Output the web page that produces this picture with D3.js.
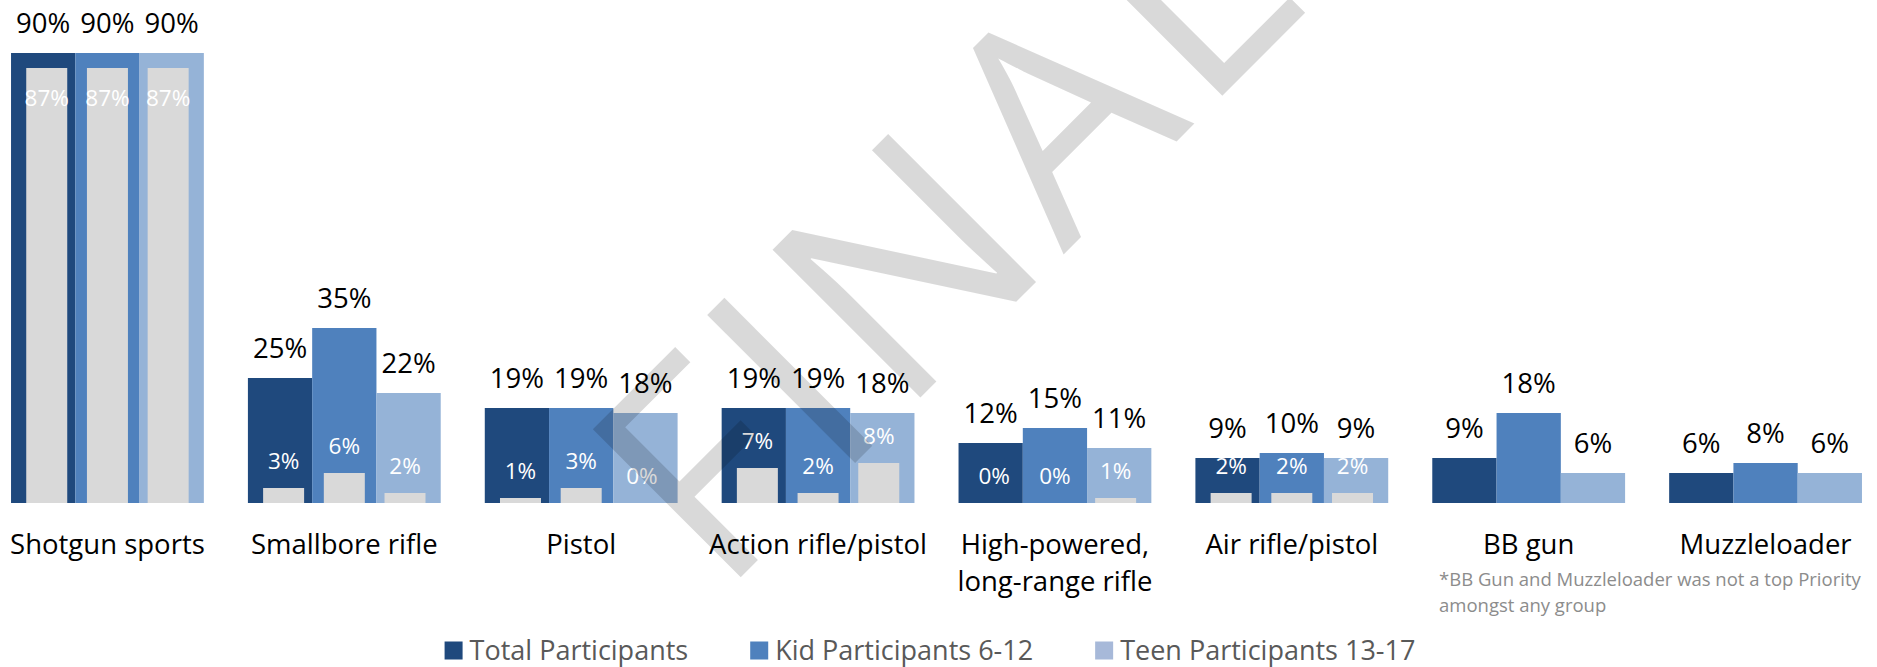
<!DOCTYPE html>
<html>
<head>
<meta charset="utf-8">
<script src="https://cdnjs.cloudflare.com/ajax/libs/d3/7.8.5/d3.min.js"></script>
<style>
  html, body { margin: 0; padding: 0; background: #ffffff; }
  svg { display: block; }
  text { font-family: "Open Sans", "DejaVu Sans", sans-serif; }
</style>
</head>
<body>
<svg id="chart" width="1877" height="667"></svg>
<script>
// ---- data ----
const categories = ["Shotgun sports", "Smallbore rifle", "Pistol", "Action rifle/pistol",
  "High-powered, long-range rifle", "Air rifle/pistol", "BB gun", "Muzzleloader"];
const seriesNames = ["Total Participants", "Kid Participants 6-12", "Teen Participants 13-17"];
const totalValues = [90, 25, 19, 19, 12, 9, 9, 6];
const kidValues   = [90, 35, 19, 19, 15, 10, 18, 8];
const teenValues  = [90, 22, 18, 18, 11, 9, 6, 6];
// top-priority share (grey inner bars); null = not a top priority
const totalPriority = [87, 3, 1, 7, 0, 2, null, null];
const kidPriority   = [87, 6, 3, 2, 0, 2, null, null];
const teenPriority  = [87, 2, 0, 8, 1, 2, null, null];
const footnoteLines = ["*BB Gun and Muzzleloader was not a top Priority", "amongst any group"];
const watermarkText = "FINAL";

// ---- styles ----
const colors = ["#1f497d", "#4f81bd", "#95b3d7"];
const legendColors = ["#1f497d", "#4f81bd", "#a7b9d9"];
const greyBar = "#d9d9d9";

const seriesValues = [totalValues, kidValues, teenValues];
const priorityValues = [totalPriority, kidPriority, teenPriority];

const svg = d3.select("#chart");

const x0 = d3.scaleBand().domain(categories).range([-11, 1884])
  .paddingInner(0.186).paddingOuter(0.093);
const x1 = d3.scaleBand().domain(seriesNames).range([0, x0.bandwidth()]).padding(0);
const half = x0.bandwidth() / 2;
const xg = d3.scalePoint().domain(seriesNames).range([half - 60.7, half + 60.7]);
const greyWidth = 41;
const y = d3.scaleLinear().domain([0, 100]).range([503, 3]);

const rows = [];
const greyRows = [];
categories.forEach((c, ci) => {
  seriesNames.forEach((s, si) => {
    rows.push({ cat: c, series: s, si, value: seriesValues[si][ci] });
    const pv = priorityValues[si][ci];
    if (pv !== null) greyRows.push({ cat: c, series: s, si, value: pv });
  });
});

const plot = svg.append("g");

// primary bars
plot.selectAll("rect.main").data(rows).join("rect")
  .attr("class", "main")
  .attr("x", d => x0(d.cat) + x1(d.series))
  .attr("width", x1.bandwidth())
  .attr("y", d => y(d.value))
  .attr("height", d => y(0) - y(d.value))
  .attr("fill", d => colors[d.si]);

// grey priority bars
plot.selectAll("rect.grey").data(greyRows).join("rect")
  .attr("class", "grey")
  .attr("x", d => x0(d.cat) + xg(d.series) - greyWidth / 2)
  .attr("width", greyWidth)
  .attr("y", d => y(d.value))
  .attr("height", d => y(0) - y(d.value))
  .attr("fill", greyBar);

// primary labels
plot.selectAll("text.vlab").data(rows).join("text")
  .attr("class", "vlab")
  .attr("x", d => x0(d.cat) + x1(d.series) + x1.bandwidth() / 2)
  .attr("y", d => y(d.value) - 20.5)
  .attr("text-anchor", "middle")
  .attr("font-size", 27.5)
  .attr("fill", "#000000")
  .text(d => d.value + "%");

// grey labels (white)
plot.selectAll("text.glab").data(greyRows).join("text")
  .attr("class", "glab")
  .attr("x", d => x0(d.cat) + xg(d.series))
  .attr("y", d => d.value > 50 ? y(d.value) + 37.5 : y(d.value) - 19.5)
  .attr("text-anchor", "middle")
  .attr("font-size", 22.5)
  .attr("fill", "#ffffff")
  .text(d => d.value + "%");

// category axis labels
const catG = plot.selectAll("text.cat").data(categories).join("text")
  .attr("class", "cat")
  .attr("text-anchor", "middle")
  .attr("font-size", 27.5)
  .attr("fill", "#000000");
catG.each(function(d) {
  const parts = d.includes(", ") ? [d.split(", ")[0] + ",", d.split(", ")[1]] : [d];
  const t = d3.select(this);
  parts.forEach((p, i) => {
    t.append("tspan")
      .attr("x", x0(d) + half)
      .attr("y", 554 + i * 37)
      .text(p);
  });
});

// footnote
svg.append("text")
  .attr("x", 1439).attr("y", 586)
  .attr("font-size", 18.5).attr("fill", "#8c8c8c")
  .selectAll("tspan").data(footnoteLines).join("tspan")
  .attr("x", 1439)
  .attr("y", (d, i) => 586 + i * 25.5)
  .text(d => d);

// legend
const legend = svg.append("g");
const items = legend.selectAll("g").data(seriesNames).join("g");
items.append("rect")
  .attr("width", 18).attr("height", 18)
  .attr("y", 641.5)
  .attr("fill", (d, i) => legendColors[i]);
items.append("text")
  .attr("x", 25).attr("y", 660)
  .attr("font-size", 27)
  .attr("fill", "#595959")
  .text(d => d);
const widths = [];
items.each(function() { widths.push(25 + d3.select(this).select("text").node().getComputedTextLength()); });
const gap = 62;
const totalW = d3.sum(widths) + gap * (widths.length - 1);
let cx = 930 - totalW / 2;
items.each(function(d, i) {
  d3.select(this).attr("transform", `translate(${cx},0)`);
  cx += widths[i] + gap;
});

// watermark
svg.append("text")
  .attr("transform", "translate(720.5,597.5) rotate(-45)")
  .attr("font-size", 293)
  .attr("fill", "#000000")
  .attr("fill-opacity", 0.15)
  .attr("textLength", 834)
  .attr("lengthAdjust", "spacing")
  .text(watermarkText);
</script>
</body>
</html>
